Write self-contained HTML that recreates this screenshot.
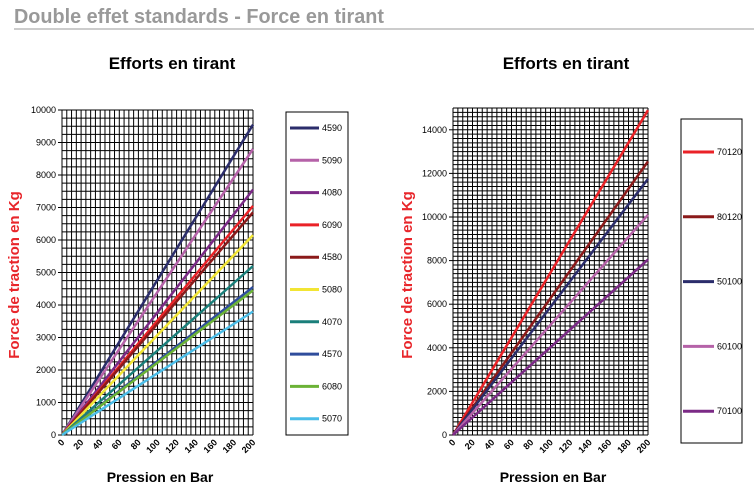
<!DOCTYPE html>
<html><head><meta charset="utf-8"><style>
body{margin:0;background:#fff;width:754px;height:490px;overflow:hidden;font-family:"Liberation Sans",Arial,sans-serif}
</style></head><body>
<svg id="s" width="754" height="490" xmlns="http://www.w3.org/2000/svg" font-family="Liberation Sans, Arial, sans-serif">
<text x="14" y="23" font-size="20" font-weight="bold" fill="#999" textLength="370" lengthAdjust="spacingAndGlyphs">Double effet standards - Force en tirant</text>
<line x1="14" y1="29" x2="754" y2="29" stroke="#999" stroke-width="1"/>
<text x="172" y="69" font-size="17" font-weight="bold" text-anchor="middle">Efforts en tirant</text>
<text x="566" y="69" font-size="17" font-weight="bold" text-anchor="middle">Efforts en tirant</text>
<text transform="translate(19,275) rotate(-90)" font-size="15" font-weight="bold" fill="#e8262b" text-anchor="middle">Force de traction en Kg</text>
<text transform="translate(412,275) rotate(-90)" font-size="15" font-weight="bold" fill="#e8262b" text-anchor="middle">Force de traction en Kg</text>
<text x="160" y="482" font-size="14" font-weight="bold" text-anchor="middle">Pression en Bar</text>
<text x="553" y="482" font-size="14" font-weight="bold" text-anchor="middle">Pression en Bar</text>
<rect x="286" y="112" width="62" height="323" fill="none" stroke="#000"/>
<rect x="681" y="119" width="61" height="324" fill="none" stroke="#000"/>
<g id="g"></g>
</svg>
<script>
var g=document.getElementById('g'),h='';
function chart(x0,x1,y0,y1,vmax,rowStep,tickStep,series,leg){
 var W=x1-x0,H=y1-y0;
 for(var p=0;p<=200;p+=5){var x=x0+p*W/200;h+='<line x1="'+x+'" y1="'+y0+'" x2="'+x+'" y2="'+y1+'" stroke="#000" stroke-width="1"/>';}
 for(var v=0;v<=vmax+1;v+=rowStep){var y=y1-v*H/vmax;h+='<line x1="'+x0+'" y1="'+y+'" x2="'+x1+'" y2="'+y+'" stroke="#000" stroke-width="1"/>';}
 h+='<line x1="'+x0+'" y1="'+y0+'" x2="'+x1+'" y2="'+y0+'" stroke="#000"/>';
 for(var v=0;v<=vmax;v+=tickStep){var y=y1-v*H/vmax;h+='<line x1="'+(x0-4)+'" y1="'+y+'" x2="'+x0+'" y2="'+y+'" stroke="#000"/><text x="'+(x0-6)+'" y="'+(y+3)+'" font-size="9" text-anchor="end">'+v+'</text>';}
 for(var p=0;p<=200;p+=20){var x=x0+p*W/200;h+='<text transform="translate('+(x+3)+','+(y1+8)+') rotate(-45)" font-size="9" font-weight="bold" text-anchor="end">'+p+'</text>';}
 series.forEach(function(s){var y=y1-s[1]*H/vmax;h+='<line x1="'+x0+'" y1="'+y1+'" x2="'+x1+'" y2="'+y+'" stroke="'+s[2]+'" stroke-width="2.5"/>';});
 series.forEach(function(s,i){var y=leg[0]+i*leg[1];h+='<line x1="'+leg[2]+'" y1="'+y+'" x2="'+leg[3]+'" y2="'+y+'" stroke="'+s[2]+'" stroke-width="3"/><text x="'+(leg[3]+3)+'" y="'+(y+3)+'" font-size="9">'+s[0]+'</text>';});
}
chart(62,253,110,435,10000,250,1000,[
['4590',9550,'#2b2d6b'],['5090',8800,'#b562a8'],['4080',7550,'#7b2a86'],['6090',7050,'#ea2227'],['4580',6850,'#8b1a1a'],['5080',6150,'#f2e534'],['4070',5200,'#1a7f7a'],['4570',4550,'#2f4d9c'],['6080',4450,'#6bb236'],['5070',3800,'#4bbde8']],[128,32.3,290,319]);
chart(453,648,108,435,15000,200,2000,[
['70120',14900,'#ea2227'],['80120',12550,'#8b1a1a'],['50100',11750,'#2b2d6b'],['60100',10100,'#b562a8'],['70100',8050,'#7b2a86']],[152,64.8,683,714]);
g.innerHTML=h;
</script>
</body></html>
